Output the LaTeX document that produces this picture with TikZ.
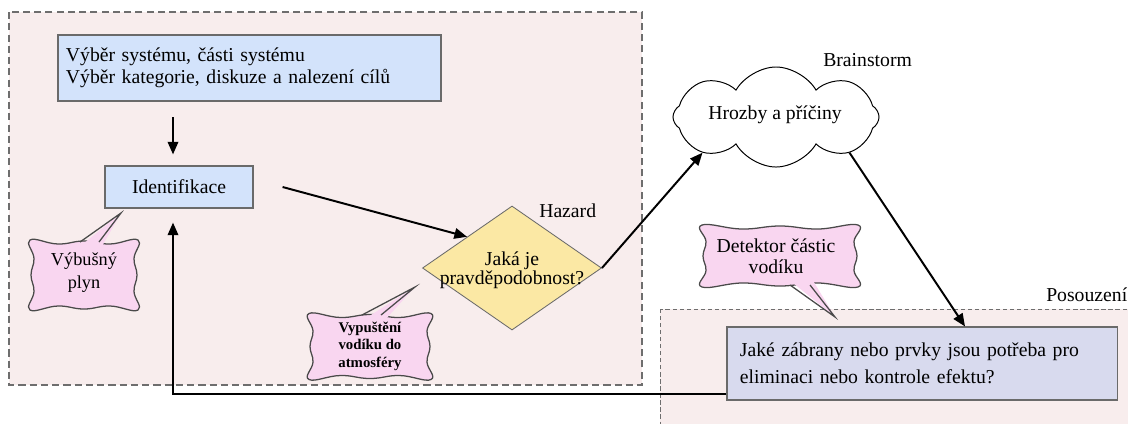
\documentclass[tikz,border=0pt]{standalone}
\usepackage{fontspec}
\setmainfont{Liberation Serif}
\usetikzlibrary{shapes.geometric,shapes.symbols,arrows.meta,calc}
\definecolor{regionpink}{HTML}{F8EDED}
\definecolor{regionline}{HTML}{6E6E6E}
\definecolor{boxblue}{HTML}{D3E3FB}
\definecolor{boxlav}{HTML}{D8DAEE}
\definecolor{diayellow}{HTML}{FBE8A4}
\definecolor{callpink}{HTML}{F9D6F0}
\definecolor{callline}{HTML}{4A4A4A}
\definecolor{boxline}{HTML}{6A6A6A}
% wavy callout body: centre x, centre y, half width, half height (picture units)
\newcommand\wavybody[4]{%
  \draw[callshape] plot[smooth cycle,tension=0.75] coordinates {
    ({#1-#3-2},{#2-#4-2}) ({#1-#3/2},{#2-#4+2}) ({#1},{#2-#4-1}) ({#1+#3/2},{#2-#4+2})
    ({#1+#3+2},{#2-#4-2}) ({#1+#3-2},{#2-#4/2}) ({#1+#3+1},{#2}) ({#1+#3-2},{#2+#4/2})
    ({#1+#3+2},{#2+#4+2}) ({#1+#3/2},{#2+#4-2}) ({#1},{#2+#4+1}) ({#1-#3/2},{#2+#4-2})
    ({#1-#3-2},{#2+#4+2}) ({#1-#3+2},{#2+#4/2}) ({#1-#3-1},{#2}) ({#1-#3+2},{#2-#4/2})};}
\begin{document}
\begin{tikzpicture}[x=0.025cm,y=-0.025cm,
  txt/.style={font=\fontsize{14}{15.6}\selectfont},
  region/.style={draw=regionline,fill=regionpink},
  bluebox/.style={draw=boxline,fill=boxblue,line width=0.8pt,txt},
  arr/.style={line width=1.4pt,-{Triangle[length=9pt,width=7.5pt]}},
  callshape/.style={draw=callline,fill=callpink,line width=0.9pt},
  callptr/.style={fill=callpink},
  callside/.style={draw=callline,line width=0.9pt}]
\useasboundingbox (0,0) rectangle (1128,423);
% regions
\path[region,line width=0.8pt,dash pattern=on 5pt off 3pt] (9,12) rectangle (642,385);
\path[region,line width=0.5pt,dash pattern=on 3pt off 2pt] (660,309) rectangle (1140,435);
% labels
\node[txt,anchor=west,inner sep=0pt] (hazlbl) at (539,211) {Hazard};
\node[txt,anchor=west,inner sep=0pt] (brainlbl) at (823,60) {Brainstorm};
\node[txt,anchor=west,inner sep=0pt] (poslbl) at (1046,295) {Posouzení};
% main nodes
\node[bluebox,text width=9.175cm,inner xsep=0.2cm,minimum height=1.65cm,align=left] (top) at (249.5,68)
  {Výběr systému, části systému\\Výběr kategorie, diskuze a nalezení cílů};
\node[bluebox,minimum width=3.7cm,minimum height=1.05cm,inner sep=0pt] (ident) at (179,187) {Identifikace};
\node[diamond,draw=boxline,fill=diayellow,line width=0.6pt,minimum width=4.475cm,minimum height=3.1cm,
  inner sep=0pt] (dia) at (512,268) {};
\node[txt,align=center,font=\fontsize{14}{13.8}\selectfont] (diatext) at (512,270) {Jaká je\\pravděpodobnost?};
\node[cloud,cloud puffs=8,cloud puff arc=120,cloud ignores aspect,draw=black,fill=white,line width=0.7pt,
  minimum width=5.15cm,minimum height=2.5cm,inner sep=0pt] (cloud) at (776,117) {};
\node[txt] (cloudtext) at (775,115) {Hrozby a příčiny};
\node[draw=boxline,fill=boxlav,line width=0.8pt,text width=9.1cm,inner xsep=0.325cm,
  minimum height=1.825cm,align=left,font=\fontsize{14}{19}\selectfont] (bot) at (922,363.5)
  {Jaké zábrany nebo prvky jsou potřeba pro\\eliminaci nebo kontrole efektu?};
% callouts
\wavybody{84}{275}{52}{33}
\coordinate (c1tip) at (121,213);
\fill[callptr] (78,248) -- (c1tip) -- (101,248) -- cycle;
\draw[callside] (80,242) -- (c1tip) -- (99,242);
\node[align=center,font=\fontsize{13}{16.3}\selectfont] (c1) at (84,273) {Výbušný\\plyn};
\wavybody{370}{346.5}{59}{31}
\coordinate (c2tip) at (415,287);
\fill[callptr] (360,322) -- (c2tip) -- (383,322) -- cycle;
\draw[callside] (362,315) -- (c2tip) -- (381,315);
\node[align=center,font=\bfseries\fontsize{10.5}{12.5}\selectfont] (c2) at (370,346) {Vypuštění\\vodíku do\\atmosféry};
\wavybody{780}{256}{76}{29}
\coordinate (c3tip) at (835,317);
\fill[callptr] (788,279) -- (c3tip) -- (812,279) -- cycle;
\draw[callside] (790,285) -- (c3tip) -- (810,285);
\node[align=center,font=\fontsize{14}{15}\selectfont] (c3) at (776,256) {Detektor částic\\vodíku};
% connectors
\draw[arr] ($(ident.north)+(-6,-48)$) -- ($(ident.north)+(-6,-11)$);
\draw[arr] ($(ident.east)+(29,0)$) -- (dia.north west);
\draw[arr] (dia.east) -- (cloud.south west);
\draw[arr] (cloud.south east) -- ($(bot.north)+(43,0)$);
\draw[arr] ($(bot.south west)+(0,-7)$) -| ($(ident.south)+(-6,14)$);
\end{tikzpicture}
\end{document}
